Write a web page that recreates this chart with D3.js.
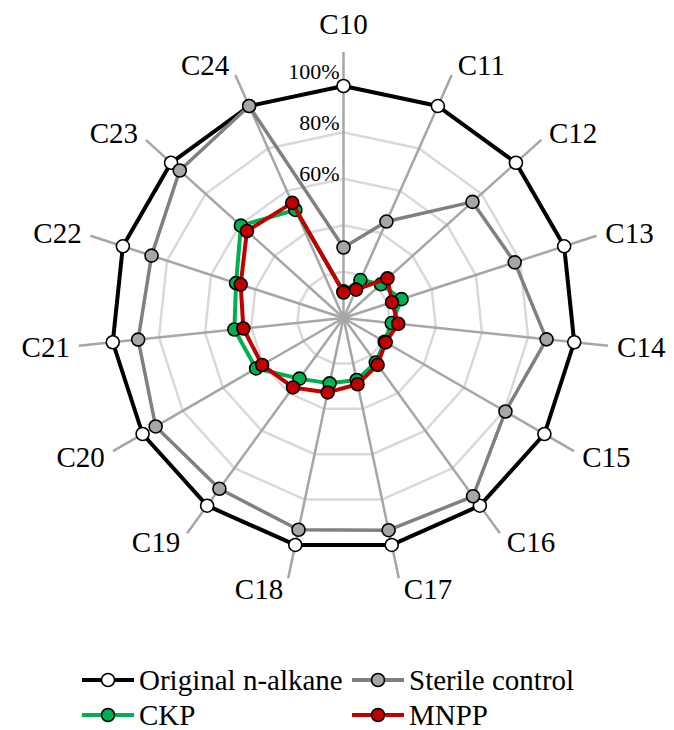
<!DOCTYPE html>
<html><head><meta charset="utf-8">
<script src="https://cdn.jsdelivr.net/npm/d3@7"></script>
<style>
html,body{margin:0;padding:0;background:#fff;}
svg{display:block;}
</style></head>
<body>
<svg id="chart" width="674" height="730" font-family="'Liberation Serif', 'Times New Roman', Times, serif"></svg>
<script>
const categories = ["C10","C11","C12","C13","C14","C15","C16","C17","C18","C19","C20","C21","C22","C23","C24"];
const originalAlkane = [100,100,100,100,100,100,100,100,100,100,100,100,100,100,100];
const sterileControl = [30.4,45.5,74.8,77.6,88,80.6,95,93.5,93.3,91,93.5,89,87,95,100];
const ckp = [11.5,17.9,21.7,26.3,20.9,20.5,23.7,27.3,28.8,32.3,43.5,47.3,48.7,59.5,51];
const mnpp = [11,13.4,25.5,22,23.7,21,25,29.2,32.8,37,40.5,43.4,46.6,56,54.3];
const gridTicks = [20,40,60,80,100];
const tickLabelValues = [60,80,100];
const seriesNames = ["Original n-alkane","Sterile control","CKP","MNPP"];

const series = [
  {name: seriesNames[0], values: originalAlkane, line: "#000000", fill: "#ffffff", lw: 4},
  {name: seriesNames[1], values: sterileControl, line: "#808080", fill: "#a6a6a6", lw: 3.5},
  {name: seriesNames[2], values: ckp, line: "#00b050", fill: "#00b050", lw: 4},
  {name: seriesNames[3], values: mnpp, line: "#c00000", fill: "#c00000", lw: 4}
];

const FONT = "'Liberation Serif', 'Times New Roman', Times, serif";
const svg = d3.select("#chart");
const cx = 343.5, cy = 318;
const r = d3.scaleLinear().domain([0,100]).range([0,232]);
const angle = d3.scaleLinear().domain([0, categories.length]).range([0, 2*Math.PI]);
const spokeMax = 114.7;

const g = svg.append("g").attr("transform", `translate(${cx},${cy})`);
const px = (i, v) => r(v) * Math.sin(angle(i));
const py = (i, v) => -r(v) * Math.cos(angle(i));

// grid polygons
const radial = d3.lineRadial().curve(d3.curveLinearClosed);
g.selectAll("path.grid").data(gridTicks).join("path")
  .attr("class","grid")
  .attr("d", t => radial(categories.map((c,i)=>[angle(i), r(t)])))
  .attr("fill","none").attr("stroke","#d9d9d9").attr("stroke-width",2.5);

// spokes
g.selectAll("line.spoke").data(categories).join("line")
  .attr("class","spoke")
  .attr("x1",0).attr("y1",0)
  .attr("x2",(c,i)=>px(i,spokeMax)).attr("y2",(c,i)=>py(i,spokeMax))
  .attr("stroke","#a6a6a6").attr("stroke-width",2.5);

// tick labels
const labelR = v => r(v)*1.1 - 16;
g.selectAll("text.tick").data(tickLabelValues).join("text")
  .attr("class","tick")
  .attr("x",-4).attr("y", v => -labelR(v))
  .attr("text-anchor","end")
  .attr("font-family", FONT)
  .attr("font-size",22)
  .text(v => v + "%");

// category labels
categories.forEach((c,i)=>{
  const a = angle(i), s = Math.sin(a), co = Math.cos(a);
  const ex = px(i, spokeMax), ey = py(i, spokeMax);
  let anchor = "middle", x = ex, yc;
  if (s > 0.05) { anchor = "start"; x = ex + 4 + 5*Math.abs(s); }
  else if (s < -0.05) { anchor = "end"; x = ex - 4 - 5*Math.abs(s); }
  if (anchor === "middle") yc = ey - co*(10 + 18);
  else yc = ey - co*11;
  g.append("text").attr("class","cat")
    .attr("x", x).attr("y", yc)
    .attr("dy","0.35em")
    .attr("text-anchor", anchor)
    .attr("font-family", FONT)
    .attr("font-size", 29)
    .text(c);
});

// series
series.forEach(sr=>{
  g.append("path")
    .attr("d", radial(sr.values.map((v,i)=>[angle(i), r(v)])))
    .attr("fill","none").attr("stroke", sr.line).attr("stroke-width", sr.lw)
    .attr("stroke-linejoin","round");
  g.selectAll(null).data(sr.values).join("circle")
    .attr("cx",(v,i)=>px(i,v)).attr("cy",(v,i)=>py(i,v))
    .attr("r",6.5).attr("fill", sr.fill).attr("stroke","#000").attr("stroke-width",1.6);
});

// legend
const legendPos = [[82,680],[352,680],[82,715],[352,715]];
series.forEach((sr,k)=>{
  const [lx, ly] = legendPos[k];
  const lg = svg.append("g").attr("transform",`translate(${lx},${ly})`);
  lg.append("line").attr("x1",0).attr("x2",52).attr("y1",0).attr("y2",0)
    .attr("stroke", sr.line).attr("stroke-width", 4);
  lg.append("circle").attr("cx",26).attr("cy",0).attr("r",6.5)
    .attr("fill", sr.fill).attr("stroke","#000").attr("stroke-width",1.6);
  lg.append("text").attr("x",57).attr("y",0).attr("dy","0.35em")
    .attr("font-family", FONT)
    .attr("font-size",29).text(sr.name);
});
</script>
</body></html>
